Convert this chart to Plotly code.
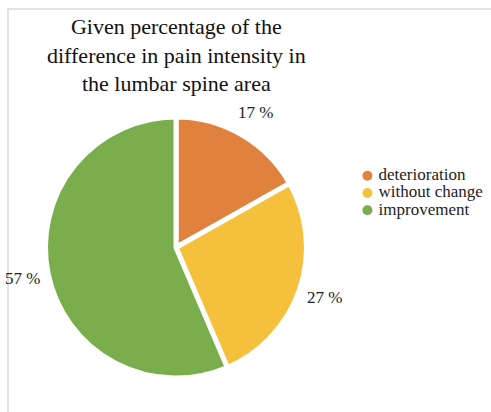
import math
import plotly.graph_objects as go

# Share of patients by change in lumbar pain intensity
categories = ["deterioration", "without change", "improvement"]
percentages = [17, 27, 57]
colors = ["#E0813D", "#F5C13C", "#7AAD4B"]

W, H = 491, 412
SERIF = "Liberation Serif, Times New Roman, serif"

# Pie placement in pixels
CX, CY, R = 176, 247.5, 130.5

fig = go.Figure()

fig.add_trace(go.Pie(
    labels=categories,
    values=percentages,
    sort=False,
    direction="clockwise",
    rotation=0,
    marker=dict(colors=colors, line=dict(color="white", width=5)),
    textinfo="none",
    showlegend=False,
    hoverinfo="label+value",
    domain=dict(x=[(CX - R) / W, (CX + R) / W],
                y=[1 - (CY + R) / H, 1 - (CY - R) / H]),
))

# Percentage labels placed just outside each slice's mid angle
total = sum(percentages)
cum = 0
annotations = []
for p in percentages:
    mid = (cum + p / 2) / total * 2 * math.pi
    cum += p
    lx = CX + 1.2 * R * math.sin(mid)
    ly = CY - 1.2 * R * math.cos(mid)
    annotations.append(dict(
        x=lx / W, y=1 - ly / H, xref="paper", yref="paper",
        text=f"{p} %", showarrow=False,
        xanchor="center", yanchor="middle",
        font=dict(family=SERIF, size=17, color="#222222"),
    ))

# Title
annotations.append(dict(
    x=176 / W, y=1 - 12 / H, xref="paper", yref="paper",
    text="Given percentage of the<br>difference in pain intensity in<br>the lumbar spine area",
    showarrow=False, xanchor="center", yanchor="top", align="center",
    font=dict(family=SERIF, size=22, color="#111111"),
))

# Legend: round markers with labels, one row per category
rows = list(range(len(categories)))
fig.add_trace(go.Scatter(
    x=[0] * len(categories), y=rows,
    mode="markers",
    marker=dict(symbol="circle", size=10, color=colors),
    showlegend=False, hoverinfo="skip", cliponaxis=False,
))
fig.add_trace(go.Scatter(
    x=[0.9] * len(categories), y=rows,
    mode="text",
    text=categories,
    textposition="middle right",
    textfont=dict(family=SERIF, size=17, color="#222222"),
    showlegend=False, hoverinfo="skip", cliponaxis=False,
))

fig.update_layout(
    width=W, height=H,
    margin=dict(l=0, r=0, t=0, b=0),
    paper_bgcolor="white",
    plot_bgcolor="rgba(0,0,0,0)",
    xaxis=dict(visible=False, domain=[360 / W, 1], range=[-0.6, 10]),
    yaxis=dict(visible=False, domain=[1 - 219 / H, 1 - 167 / H],
               range=[2.5, -0.5]),
    annotations=annotations,
    shapes=[dict(
        type="rect", xref="paper", yref="paper",
        x0=8 / W, x1=1.02, y0=-0.02, y1=1 - 9 / H,
        line=dict(color="#D9D9D9", width=1.5),
        fillcolor="rgba(0,0,0,0)", layer="below",
    )],
)

fig.write_html("out.html")
